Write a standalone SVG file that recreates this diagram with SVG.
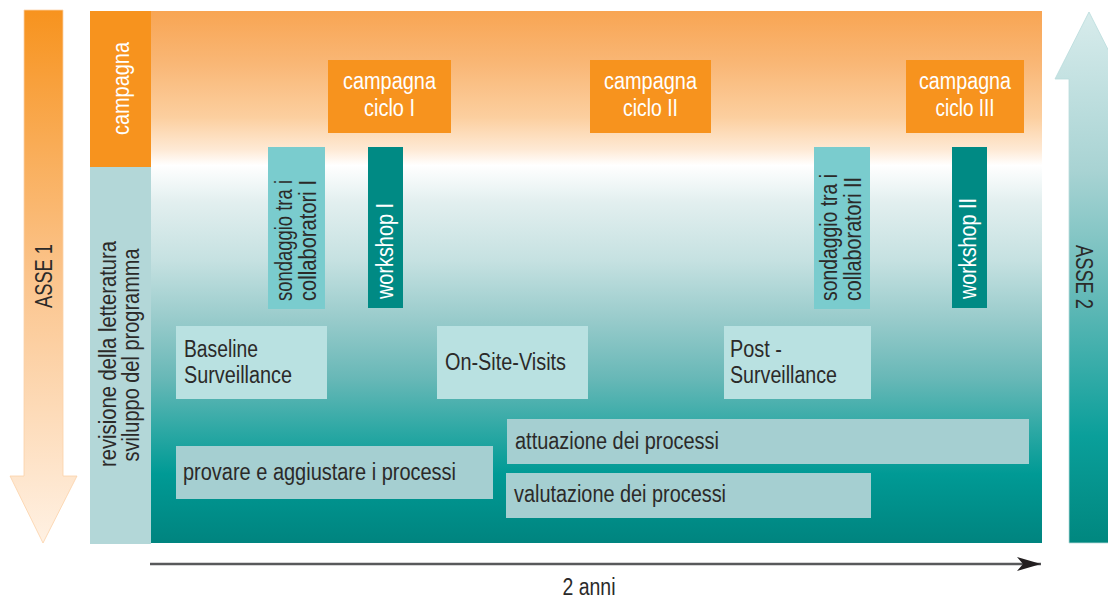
<svg xmlns="http://www.w3.org/2000/svg" width="1108" height="598" viewBox="0 0 1108 598">
<defs>
<linearGradient id="bg" x1="0" y1="11" x2="0" y2="543" gradientUnits="userSpaceOnUse">
<stop offset="0" stop-color="#f8a553"/>
<stop offset="0.1" stop-color="#f9b776"/>
<stop offset="0.2" stop-color="#fccf9f"/>
<stop offset="0.26" stop-color="#fee9d4"/>
<stop offset="0.29" stop-color="#ffffff"/>
<stop offset="0.36" stop-color="#e2efef"/>
<stop offset="0.47" stop-color="#c5e1e1"/>
<stop offset="0.58" stop-color="#98cbcb"/>
<stop offset="0.69" stop-color="#68b8b7"/>
<stop offset="0.79" stop-color="#2ca8a4"/>
<stop offset="0.87" stop-color="#009a95"/>
<stop offset="1" stop-color="#00847f"/>
</linearGradient>
<linearGradient id="a1" x1="0" y1="10" x2="0" y2="543" gradientUnits="userSpaceOnUse">
<stop offset="0" stop-color="#f7931e"/>
<stop offset="0.5" stop-color="#fbc48c"/>
<stop offset="1" stop-color="#fff1e3"/>
</linearGradient>
<linearGradient id="a2" x1="0" y1="12" x2="0" y2="543" gradientUnits="userSpaceOnUse">
<stop offset="0" stop-color="#d8ecec"/>
<stop offset="0.3" stop-color="#a8d3d3"/>
<stop offset="0.55" stop-color="#5fb8b6"/>
<stop offset="0.8" stop-color="#0a9f9a"/>
<stop offset="1" stop-color="#00877f"/>
</linearGradient>
<marker id="arr" markerWidth="26" markerHeight="16" refX="24" refY="8" orient="auto" markerUnits="userSpaceOnUse">
<path d="M0,1 L24,8 L0,15 L6,8 Z" fill="#231f20"/>
</marker>
<style>
text{font-family:"Liberation Sans",Arial,sans-serif;font-size:23.5px;fill:#2b2a29}
.w{fill:#ffffff}
.or{fill:#f7931e}
.lb{fill:#b9e1e1}
.pb{fill:#a5cfd1}
.sb{fill:#7accce}
.wb{fill:#008a84}
.c{text-anchor:middle}
</style>
</defs>

<g id="asse1">
<path d="M24,10 H63 V476 H77 L43,543 L10,476 H24 Z" fill="url(#a1)" stroke="#fbd2a8" stroke-width="0.8"/>
<text transform="translate(52,276) rotate(-90)" class="c" textLength="64" lengthAdjust="spacingAndGlyphs">ASSE 1</text>
</g>

<g id="asse2">
<path d="M1069,543 V79 H1055 L1089,12 L1123,79 H1109 V543 Z" fill="url(#a2)" stroke="#b9dcdc" stroke-width="0.8"/>
<text transform="translate(1076,277) rotate(90)" class="c" textLength="64" lengthAdjust="spacingAndGlyphs">ASSE 2</text>
</g>

<g id="panel">
<rect x="151" y="11" width="891" height="532" fill="url(#bg)"/>
</g>

<g id="col-campagna">
<rect x="90" y="11" width="61" height="156" class="or"/>
<text transform="translate(129,88.5) rotate(-90)" class="c w" textLength="93" lengthAdjust="spacingAndGlyphs">campagna</text>
</g>

<g id="col-revisione">
<rect x="90" y="167" width="61" height="377" fill="#b3d7d8"/>
<text transform="translate(116,354) rotate(-90)" class="c" textLength="226" lengthAdjust="spacingAndGlyphs">revisione della letteratura</text>
<text transform="translate(139,355) rotate(-90)" class="c" textLength="213" lengthAdjust="spacingAndGlyphs">sviluppo del programma</text>
</g>

<g id="campagna1">
<rect x="328" y="60" width="123" height="73" class="or"/>
<text x="389.5" y="89" class="c w" textLength="93" lengthAdjust="spacingAndGlyphs">campagna</text>
<text x="389.5" y="116" class="c w" textLength="51" lengthAdjust="spacingAndGlyphs">ciclo I</text>
</g>
<g id="campagna2">
<rect x="590" y="60" width="121" height="73" class="or"/>
<text x="650.5" y="89" class="c w" textLength="93" lengthAdjust="spacingAndGlyphs">campagna</text>
<text x="650.5" y="116" class="c w" textLength="55" lengthAdjust="spacingAndGlyphs">ciclo II</text>
</g>
<g id="campagna3">
<rect x="906" y="60" width="118" height="73" class="or"/>
<text x="965" y="89" class="c w" textLength="92" lengthAdjust="spacingAndGlyphs">campagna</text>
<text x="965" y="116" class="c w" textLength="59" lengthAdjust="spacingAndGlyphs">ciclo III</text>
</g>

<g id="sondaggio1">
<rect x="268" y="147" width="57" height="162" class="sb"/>
<text transform="translate(292,301) rotate(-90)" textLength="121" lengthAdjust="spacingAndGlyphs">sondaggio tra i</text>
<text transform="translate(316,301) rotate(-90)" textLength="121" lengthAdjust="spacingAndGlyphs">collaboratori I</text>
</g>
<g id="workshop1">
<rect x="368" y="147" width="35" height="161" class="wb"/>
<text transform="translate(393,299) rotate(-90)" class="w" textLength="96" lengthAdjust="spacingAndGlyphs">workshop I</text>
</g>
<g id="sondaggio2">
<rect x="814" y="147" width="56" height="162" class="sb"/>
<text transform="translate(837,301) rotate(-90)" textLength="127" lengthAdjust="spacingAndGlyphs">sondaggio tra i</text>
<text transform="translate(861,301) rotate(-90)" textLength="124" lengthAdjust="spacingAndGlyphs">collaboratori II</text>
</g>
<g id="workshop2">
<rect x="952" y="147" width="35" height="161" class="wb"/>
<text transform="translate(976,299) rotate(-90)" class="w" textLength="101" lengthAdjust="spacingAndGlyphs">workshop II</text>
</g>

<g id="baseline">
<rect x="176" y="326" width="151" height="73" class="lb"/>
<text x="184" y="357" textLength="74" lengthAdjust="spacingAndGlyphs">Baseline</text>
<text x="184" y="383" textLength="108" lengthAdjust="spacingAndGlyphs">Surveillance</text>
</g>
<g id="onsite">
<rect x="437" y="326" width="151" height="73" class="lb"/>
<text x="445" y="370" textLength="121" lengthAdjust="spacingAndGlyphs">On-Site-Visits</text>
</g>
<g id="post">
<rect x="724" y="326" width="147" height="73" class="lb"/>
<text x="730" y="357" textLength="52" lengthAdjust="spacingAndGlyphs">Post -</text>
<text x="730" y="383" textLength="107" lengthAdjust="spacingAndGlyphs">Surveillance</text>
</g>

<g id="provare">
<rect x="176" y="446" width="317" height="53" class="pb"/>
<text x="183" y="480" textLength="273" lengthAdjust="spacingAndGlyphs">provare e aggiustare i processi</text>
</g>
<g id="attuazione">
<rect x="507" y="419" width="522" height="45" class="pb"/>
<text x="515" y="449" textLength="204" lengthAdjust="spacingAndGlyphs">attuazione dei processi</text>
</g>
<g id="valutazione">
<rect x="506" y="473" width="365" height="45" class="pb"/>
<text x="514" y="502" textLength="212" lengthAdjust="spacingAndGlyphs">valutazione dei processi</text>
</g>

<g id="connectors">
<line x1="150" y1="564" x2="1041" y2="564" stroke="#58595b" stroke-width="2.5" marker-end="url(#arr)"/>
</g>
<g id="label-anni">
<text x="589" y="595" class="c" textLength="53" lengthAdjust="spacingAndGlyphs">2 anni</text>
</g>
</svg>
